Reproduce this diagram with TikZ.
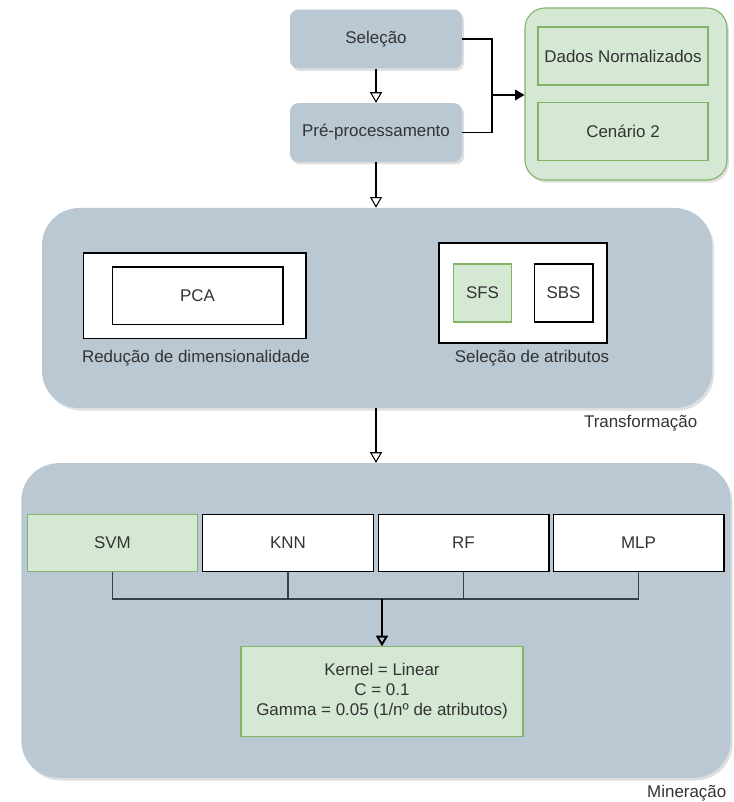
\documentclass[tikz,border=0pt]{standalone}
\usepackage{fontspec}
\setmainfont{Liberation Sans}
\usepackage{tikz}
\usetikzlibrary{arrows.meta,shadows}

\definecolor{stageblue}{HTML}{BAC8D3}
\definecolor{okgreen}{HTML}{D5E8D4}
\definecolor{okline}{HTML}{82B366}
\definecolor{txtgray}{HTML}{333333}
\definecolor{busgray}{HTML}{36424A}

\begin{document}
\begin{tikzpicture}[
    x=0.75pt, y=-0.75pt,
    every node/.style={anchor=center, text=txtgray, font=\fontsize{12.7}{15}\selectfont},
    phase/.style={fill=stageblue, rounded corners=6pt, minimum width=129pt, minimum height=44pt,
        drop shadow={shadow xshift=1.5pt, shadow yshift=-2pt, opacity=0.25}},
    stage/.style={fill=stageblue, rounded corners=28pt,
        drop shadow={shadow xshift=1.5pt, shadow yshift=-2pt, opacity=0.25}},
    chosen/.style={draw=okline, fill=okgreen, line width=0.8pt},
    plain/.style={draw=black, fill=white, line width=1pt},
    caption/.style={font=\fontsize{12.7}{15}\selectfont},
    link/.style={draw=black, line width=0.8pt},
    openarrow/.style={-{Triangle[open, length=8pt, width=9pt]}, line width=0.8pt},
    fillarrow/.style={-{Triangle[length=7pt, width=8pt]}, line width=0.8pt},
    busline/.style={draw=busgray, line width=1.2pt}
    ]
\useasboundingbox (0,0) rectangle (733,802);

% Selection and pre-processing
\node[phase] (Selecao) at (376,39) {Seleção};
\node[phase] (Preproc) at (376,132.5) {Pré-processamento};
\draw[openarrow] (Selecao) to (Preproc);

% Scenario block
\node[chosen, rounded corners=15pt, minimum width=151.5pt, minimum height=129pt,
    drop shadow={shadow xshift=1.5pt, shadow yshift=-2pt, opacity=0.25}] (Cenarios) at (626,94) {};
\node[chosen, minimum width=127.5pt, minimum height=43.5pt] (Dados) at (623,56) {Dados Normalizados};
\node[chosen, minimum width=127.5pt, minimum height=43pt] (Cenario2) at (623,131.5) {Cenário 2};

\coordinate (junc) at (492,95);
\draw[link] (Selecao.east) -| (junc);
\draw[link] (Preproc.east) -| (junc);
\draw[fillarrow] (junc) to (Cenarios.west |- junc);

% Transformation
\node[stage, minimum width=502.5pt, minimum height=150pt] (Transf) at (377,308) {};
\node[caption, anchor=east] (Transf Label) at (702,423) {Transformação};
\draw[openarrow] (Preproc) to (Preproc.south |- Transf.north);

\node[plain, minimum width=167pt, minimum height=64pt] (PCA Box) at (194.5,295.5) {};
\node[plain, minimum width=128pt, minimum height=43pt] (PCA) at (197.5,295.5) {PCA};
\node[caption] (Reducao) at (196,358) {Redução de dimensionalidade};

\node[plain, minimum width=126pt, minimum height=75pt] (Sel Box) at (523,293) {};
\node[chosen, minimum width=44pt, minimum height=43.5pt] (SFS) at (482.5,293) {SFS};
\node[plain, minimum width=44pt, minimum height=43.5pt] (SBS) at (563.5,293) {SBS};
\node[caption] (Atributos) at (532,358) {Seleção de atributos};

% Mining
\node[stage, minimum width=532pt, minimum height=236pt] (Miner) at (376,620.5) {};
\node[caption, anchor=east] (Miner Label) at (731,793) {Mineração};
\draw[openarrow] (Transf.south -| Preproc.south) to (Preproc.south |- Miner.north);

\node[chosen, minimum width=128pt, minimum height=43pt] (SVM) at (112.5,543) {SVM};
\node[plain, minimum width=128pt, minimum height=43pt] (KNN) at (288,543) {KNN};
\node[plain, minimum width=128pt, minimum height=43pt] (RF) at (463.5,543) {RF};
\node[plain, minimum width=128pt, minimum height=43pt] (MLP) at (638.5,543) {MLP};

\node[chosen, minimum width=211.5pt, minimum height=67pt, align=center] (Params) at (382,691.5)
    {Kernel = Linear\\C = 0.1\\Gamma = 0.05 (1/nº de atributos)};

\coordinate (bus) at (382,599);
\draw[busline] (SVM.south) -- (SVM.south |- bus) -- (MLP.south |- bus) -- (MLP.south);
\draw[busline] (KNN.south) -- (KNN.south |- bus);
\draw[busline] (RF.south) -- (RF.south |- bus);
\draw[openarrow, line width=1.5pt] (bus) to (Params.north);

\end{tikzpicture}
\end{document}
